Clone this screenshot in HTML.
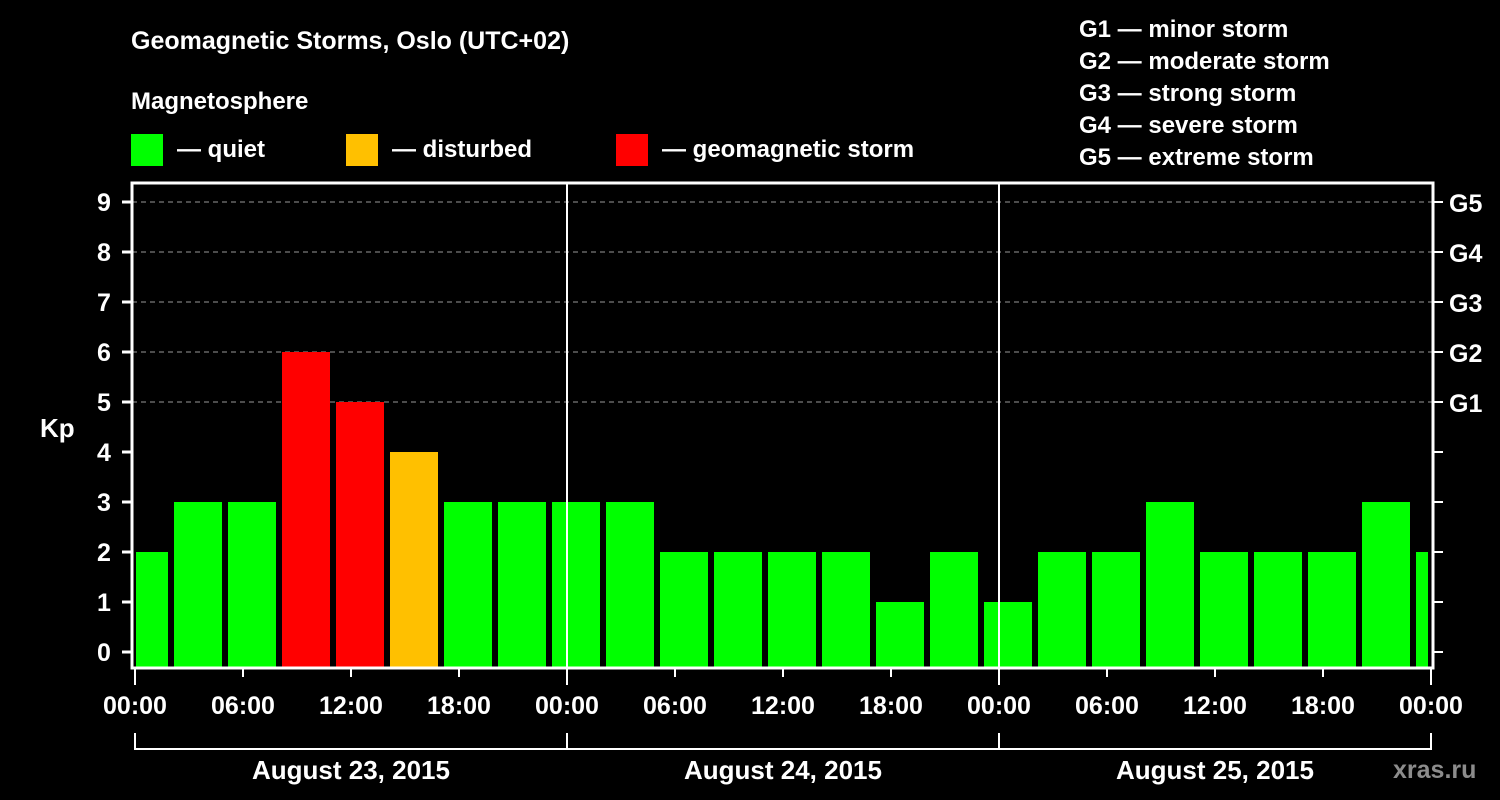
<!DOCTYPE html>
<html><head><meta charset="utf-8"><style>
html,body{margin:0;padding:0;background:#000;width:1500px;height:800px;overflow:hidden}
svg text{font-family:"Liberation Sans",Arial,sans-serif;font-weight:bold;fill:#fff}
</style></head><body>
<svg id="chart" width="1500" height="800" xmlns="http://www.w3.org/2000/svg">
<text x="131" y="49" font-size="25">Geomagnetic Storms, Oslo (UTC+02)</text>
<text x="131" y="109" font-size="24">Magnetosphere</text>
<g>
<rect x="131" y="134" width="32" height="32" fill="#00ff00"/>
<text x="177" y="157" font-size="24">— quiet</text>
<rect x="346" y="134" width="32" height="32" fill="#ffc000"/>
<text x="392" y="157" font-size="24">— disturbed</text>
<rect x="616" y="134" width="32" height="32" fill="#ff0000"/>
<text x="662" y="157" font-size="24">— geomagnetic storm</text>
</g>
<g font-size="24">
<text x="1079" y="37">G1 — minor storm</text>
<text x="1079" y="69">G2 — moderate storm</text>
<text x="1079" y="101">G3 — strong storm</text>
<text x="1079" y="133">G4 — severe storm</text>
<text x="1079" y="165">G5 — extreme storm</text>
</g>
<text x="40" y="437" font-size="26">Kp</text>
<text x="1393" y="778" font-size="25" fill="#888" style="fill:#8c8c8c">xras.ru</text>
<g id="plot"></g>
</svg>
<script>
const kpValues=[2,3,3,6,5,4,3,3,3,3,2,2,2,2,1,2,1,2,2,3,2,2,2,3,2];
const yTicks=[0,1,2,3,4,5,6,7,8,9];
const gLabels=["G1","G2","G3","G4","G5"];
const gLevels=[5,6,7,8,9];
const xTickLabels=["00:00","06:00","12:00","18:00","00:00","06:00","12:00","18:00","00:00","06:00","12:00","18:00","00:00"];
const dayLabels=["August 23, 2015","August 24, 2015","August 25, 2015"];
const firstBarHour=-1, barHours=3, totalHours=72;

const NS="http://www.w3.org/2000/svg";
const g=document.getElementById('plot');
const X0=135,PXH=18,Y0=652,PXK=50,TOP=183,BOT=668,LEFT=132,RIGHT=1433;
const xs=h=>X0+h*PXH, ys=k=>Y0-k*PXK;
function mk(t,a){const e=document.createElementNS(NS,t);for(const k in a)e.setAttribute(k,a[k]);g.appendChild(e);return e;}
// grid
gLevels.forEach(k=>{const l=mk('line',{x1:LEFT,x2:RIGHT,y1:ys(k),y2:ys(k),stroke:'#999','stroke-dasharray':'5,4','stroke-width':1});

});
// bars
kpValues.forEach((v,i)=>{const h=firstBarHour+i*barHours;let x1=xs(h)+3,x2=xs(h+barHours)-3;
x1=Math.max(x1,LEFT+4);x2=Math.min(x2,xs(totalHours)-3);
const c=v>=5?'#ff0000':(v>=4?'#ffc000':'#00ff00');
const r=mk('rect',{x:x1,y:ys(v),width:x2-x1,height:BOT-ys(v),fill:c});

});
// day separators
[24,48].forEach(h=>{const l=mk('line',{x1:xs(h),x2:xs(h),y1:TOP,y2:BOT,stroke:'#fff','stroke-width':2});

});
// frame
const f=mk('rect',{x:LEFT,y:TOP,width:RIGHT-LEFT,height:BOT-TOP,fill:'none',stroke:'#fff','stroke-width':3});


// y ticks
yTicks.forEach(k=>{mk('line',{x1:122,x2:LEFT,y1:ys(k),y2:ys(k),stroke:'#fff','stroke-width':3});
mk('line',{x1:RIGHT,x2:1443,y1:ys(k),y2:ys(k),stroke:'#fff','stroke-width':2});
const t=mk('text',{x:104,y:ys(k)+9,'font-size':25,'text-anchor':'middle'});t.textContent=k;

});
gLabels.forEach((s,i)=>{const t=mk('text',{x:1449,y:ys(gLevels[i])+10,'font-size':25});t.textContent=s;

});
// x ticks
xTickLabels.forEach((s,i)=>{const h=i*6,x=xs(h),major=h%24===0;
mk('line',{x1:x,x2:x,y1:BOT,y2:major?685:677,stroke:'#fff','stroke-width':2});
const t=mk('text',{x:x,y:714,'font-size':25,'text-anchor':'middle'});t.textContent=s;

});
// day brackets
mk('line',{x1:xs(0),x2:xs(72),y1:749,y2:749,stroke:'#fff','stroke-width':2});
[0,24,48,72].forEach(h=>mk('line',{x1:xs(h),x2:xs(h),y1:733,y2:750,stroke:'#fff','stroke-width':2}));
dayLabels.forEach((s,i)=>{const t=mk('text',{x:xs(i*24+12),y:779,'font-size':26,'text-anchor':'middle'});t.textContent=s;

});
</script>
</body></html>
